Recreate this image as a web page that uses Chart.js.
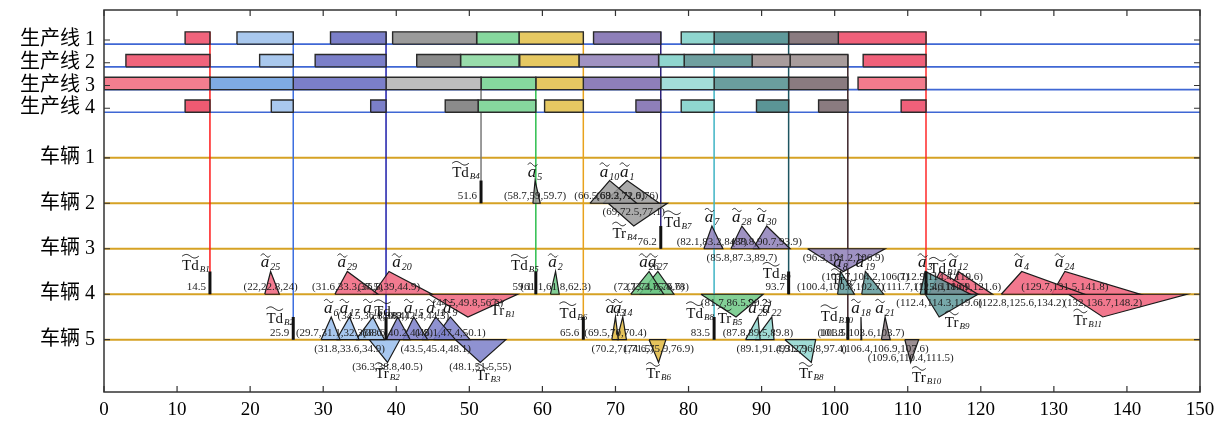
<!DOCTYPE html>
<html>
<head>
<meta charset="utf-8">
<script src="https://cdn.jsdelivr.net/npm/chart.js@4.4.1/dist/chart.umd.min.js"></script>
<style>
  html, body { margin: 0; padding: 0; background: #fff; }
  #wrap { width: 1225px; height: 426px; }
</style>
</head>
<body>
<div id="wrap"><canvas id="gantt"></canvas></div>
<script>
// ---- data ----
const timeTicks = [0, 10, 20, 30, 40, 50, 60, 70, 80, 90, 100, 110, 120, 130, 140, 150];
const lineLabels = ['生产线 1', '生产线 2', '生产线 3', '生产线 4'];
const vehicleLabels = ['车辆 1', '车辆 2', '车辆 3', '车辆 4', '车辆 5'];

// production line jobs: [start, end, batch]
const line1Jobs = [[11.1, 14.5, 'B1'], [18.2, 25.9, 'B2'], [31.0, 38.6, 'B3'], [39.5, 51.0, 'B4'], [51.0, 56.8, 'B5'], [56.8, 65.6, 'B6'], [67.0, 76.2, 'B7'], [79.0, 83.5, 'B8'], [83.5, 93.7, 'B9'], [93.7, 100.5, 'B10'], [100.5, 112.5, 'B11']];
const line2Jobs = [[3.0, 14.5, 'B1'], [21.3, 25.9, 'B2'], [28.9, 38.6, 'B3'], [42.8, 48.8, 'B4'], [48.8, 56.8, 'B5'], [56.9, 65.0, 'B6'], [65.0, 75.9, 'B7'], [75.9, 79.4, 'B8'], [79.4, 88.7, 'B9'], [88.7, 93.9, 'B10'], [93.9, 101.8, 'B10'], [103.9, 112.5, 'B11']];
const line3Jobs = [[0, 14.5, 'B1'], [14.5, 25.9, 'B2'], [25.9, 38.6, 'B3'], [38.6, 51.6, 'B4'], [51.6, 59.1, 'B5'], [59.1, 65.6, 'B6'], [65.6, 76.2, 'B7'], [76.2, 83.5, 'B8'], [83.5, 93.7, 'B9'], [93.7, 101.8, 'B10'], [103.2, 112.5, 'B11']];
const line4Jobs = [[11.1, 14.5, 'B1'], [22.9, 25.9, 'B2'], [36.5, 38.6, 'B3'], [46.7, 51.2, 'B4'], [51.2, 59.1, 'B5'], [60.3, 65.6, 'B6'], [72.8, 76.2, 'B7'], [79.0, 83.5, 'B8'], [89.3, 93.7, 'B9'], [97.8, 101.8, 'B10'], [109.1, 112.5, 'B11']];

// departures: [batch, time, vehicle]
const departures = [['B1', 14.5, 4], ['B2', 25.9, 5], ['B3', 38.6, 5], ['B4', 51.6, 2], ['B5', 59.1, 4], ['B6', 65.6, 5], ['B7', 76.2, 3], ['B8', 83.5, 5], ['B9', 93.7, 4], ['B10', 101.8, 5], ['B11', 112.5, 4]];

// fuzzy windows per vehicle: [kind, subscript, batch, a, b, c]
const vehicle2Fuzzy = [
  ['a', '5', 'B4', 58.7, 59, 59.7],
  ['a', '10', 'B4', 66.5, 69.2, 72.9],
  ['a', '1', 'B4', 68.3, 71.6, 76],
  ['Tr', 'B4', 'B4', 69, 72.5, 77.1]
];
const vehicle3Fuzzy = [
  ['a', '7', 'B7', 82.1, 83.2, 84.7],
  ['a', '28', 'B7', 85.8, 87.3, 89.7],
  ['a', '30', 'B7', 88.8, 90.7, 93.9],
  ['Tr', 'B7', 'B7', 96.3, 101.2, 106.9]
];
const vehicle4Fuzzy = [
  ['a', '25', 'B1', 22, 22.8, 24],
  ['a', '29', 'B1', 31.6, 33.3, 37.5],
  ['a', '20', 'B1', 36.8, 39, 44.9],
  ['Tr', 'B1', 'B1', 44.5, 49.8, 56.6],
  ['a', '2', 'B5', 61.1, 61.8, 62.3],
  ['a', '26', 'B5', 72.1, 74.6, 76.6],
  ['a', '27', 'B5', 73.3, 75.8, 78],
  ['Tr', 'B5', 'B5', 81.7, 86.5, 90.2],
  ['a', '8', 'B9', 100.4, 100.8, 102.7],
  ['a', '19', 'B9', 103.7, 104.2, 106.7],
  ['a', '3', 'B9', 111.7, 112.4, 118.6],
  ['Tr', 'B9', 'B9', 112.4, 114.3, 119.6],
  ['a', '', 'B11', 112.9, 114.4, 119.6],
  ['a', '12', 'B11', 115.6, 116.9, 121.6],
  ['a', '4', 'B11', 122.8, 125.6, 134.2],
  ['a', '24', 'B11', 129.7, 131.5, 141.8],
  ['Tr', 'B11', 'B11', 132, 136.7, 148.2]
];
const vehicle5Fuzzy = [
  ['a', '6', 'B2', 29.7, 31.1, 32.3],
  ['a', '17', 'B2', 31.8, 33.6, 34.9],
  ['a', '16', 'B2', 34.5, 36.8, 38.4],
  ['Tr', 'B2', 'B2', 36.3, 38.8, 40.5],
  ['a', '', 'B3', 38.6, 40.2, 41.9],
  ['a', '15', 'B3', 40.9, 42.4, 44.3],
  ['a', '11', 'B3', 43.5, 45.4, 48.1],
  ['a', '9', 'B3', 45.1, 47.4, 50.1],
  ['Tr', 'B3', 'B3', 48.1, 51.5, 55],
  ['a', '13', 'B6', 69.5, 70, 70.4],
  ['a', '14', 'B6', 70.2, 71, 71.5],
  ['Tr', 'B6', 'B6', 74.6, 75.9, 76.9],
  ['a', '23', 'B8', 87.8, 89.5, 89.8],
  ['a', '22', 'B8', 89.1, 91.4, 91.7],
  ['Tr', 'B8', 'B8', 93.2, 96.8, 97.4],
  ['a', '18', 'B10', 103.5, 103.6, 103.7],
  ['a', '21', 'B10', 106.4, 106.9, 107.6],
  ['Tr', 'B10', 'B10', 109.6, 110.4, 111.5]
];

// ---- styles / layout ----
const batchColors = { B1: '#f0647c', B2: '#a9c8ee', B3: '#7b7fc9', B4: '#9b9b9b', B5: '#86d89e', B6: '#e6c862', B7: '#8e7fb9', B8: '#8fd6cf', B9: '#5f9a9b', B10: '#8a7b80', B11: '#f0607a' };
const lineShades = [
  {},
  { B4: '#8a8a8a', B5: '#98dcab', B7: '#a092c2', B9: '#6fa0a0', B10: '#a89c9c' },
  { B1: '#f37e8f', B2: '#7fabe3', B4: '#bdbdbd', B8: '#a3ddd8', B9: '#6a9e9e', B11: '#f37b8c' },
  { B1: '#ef5a72', B4: '#8b8b8b', B9: '#5b9596' }
];
const dropColors = { B1: '#ff1a1a', B2: '#3d6fe0', B3: '#1e1eaa', B4: '#7a7a7a', B5: '#2fbf4f', B6: '#e8a21c', B7: '#2a1f78', B8: '#3fb4c4', B9: '#1d5560', B10: '#3c2429', B11: '#ff2a2a' };
const triColors = { B5: '#6cc884', B6: '#e0b840', B2: '#98bdec' };

const rowOffset = { line: -7, up: -17, up2: -24, down: 9, down2: 27, down3: 18 };
const labelRow = { a28: 'down', a17: 'down', a16: 'up2', a15: 'up2', a11: 'down', a14: 'down', a22: 'down', a21: 'down', a19: 'up', a4: 'down', TrB2: 'down2', TrB3: 'down2', TrB10: 'down3', 'x112.9': 'up' };
const nameShift = { TrB1: [35, -18], TrB5: [-6, -10], TrB9: [18, -6], TrB11: [-15, -8], TrB10: [16, 4], TrB4: [-9, -4], TrB3: [8, 2], TrB7: [0, -3], a20: [13, 0] };
const tdNameShift = { B1: [-14, -30], B2: [-13, -23], B3: [2, -30], B4: [-15, -32], B5: [-11, -30], B6: [-10, -28], B7: [17, -28], B8: [-14, -28], B9: [-12, -22], B10: [-11, -25], B11: [19, -27] };
const tdValueHidden = ['B11'];

const BAR_H = 0.27, TRI_H = 0.5;
const rowY = j => (j - 4) * 0.5;          // production line j (1..4)
const lineJobs = [line1Jobs, line2Jobs, line3Jobs, line4Jobs];
const vehicleFuzzy = { 2: vehicle2Fuzzy, 3: vehicle3Fuzzy, 4: vehicle4Fuzzy, 5: vehicle5Fuzzy };

const rgba = (hex, a) => {
  const n = parseInt(hex.slice(1), 16);
  return `rgba(${n >> 16},${(n >> 8) & 255},${n & 255},${a})`;
};

// ---- datasets ----
const datasets = [];
function addLine(points, color, width, order, fill) {
  datasets.push({
    data: points, showLine: true, tension: 0, pointRadius: 0,
    borderColor: color, borderWidth: width, order,
    fill: fill ? 'shape' : false, backgroundColor: fill || 'transparent'
  });
}

// horizontal guide lines
lineLabels.forEach((_, i) => addLine([{ x: 0, y: rowY(i + 1) }, { x: 150, y: rowY(i + 1) }], '#3f67d4', 1.6, 5));
vehicleLabels.forEach((_, i) => addLine([{ x: 0, y: i + 1 }, { x: 150, y: i + 1 }], '#d6a224', 2, 5));

// drop lines from production to vehicle
departures.forEach(([batch, t, veh]) => {
  let j = lineJobs.findIndex(jobs => jobs.some(([s, e, b]) => b === batch && Math.abs(e - t) < 0.35));
  if (j < 0) j = 0;
  addLine([{ x: t, y: rowY(j + 1) - BAR_H }, { x: t, y: veh }], dropColors[batch], 1.5, 4);
});

// gantt bars
lineJobs.forEach((jobs, i) => {
  const v = rowY(i + 1);
  jobs.forEach(([s, e, b]) => {
    const col = lineShades[i][b] || batchColors[b];
    addLine([{ x: s, y: v }, { x: s, y: v - BAR_H }, { x: e, y: v - BAR_H }, { x: e, y: v }, { x: s, y: v }], '#2a2a2a', 1.4, 3, col);
  });
});

// fuzzy triangles
Object.entries(vehicleFuzzy).forEach(([veh, list]) => {
  const v = +veh;
  list.forEach(([kind, sub, batch, a, b, c]) => {
    const dir = kind === 'Tr' ? 1 : -1;
    const col = rgba(triColors[batch] || batchColors[batch], 0.85);
    addLine([{ x: a, y: v }, { x: b, y: v + dir * TRI_H }, { x: c, y: v }, { x: a, y: v }], '#1a1a1a', 1.2, 2, col);
  });
});

// departure bars
departures.forEach(([batch, t, veh]) => addLine([{ x: t, y: veh }, { x: t, y: veh - TRI_H }], '#111', 3, 1));

// ---- text helpers ----
function drawTilde(ctx, x0, w, ym, amp) {
  ctx.beginPath();
  for (let i = 0; i <= 24; i++) {
    const t = i / 24;
    const px = x0 + t * w, py = ym - amp * Math.sin(t * 2 * Math.PI);
    if (i) ctx.lineTo(px, py); else ctx.moveTo(px, py);
  }
  ctx.stroke();
}

function drawName(ctx, kind, sub, cx, cy) {
  ctx.fillStyle = '#111'; ctx.strokeStyle = '#111'; ctx.lineWidth = 1;
  ctx.textBaseline = 'alphabetic'; ctx.textAlign = 'left';
  if (kind === 'a') {
    ctx.font = 'italic 17px "Liberation Serif"';
    const wa = ctx.measureText('a').width;
    ctx.font = 'italic 10px "Liberation Serif"';
    const ws = ctx.measureText(sub).width;
    const x0 = cx - (wa + ws + 1) / 2;
    ctx.font = 'italic 17px "Liberation Serif"';
    ctx.fillText('a', x0, cy + 5);
    drawTilde(ctx, x0, wa + 1, cy - 7, 1.6);
    ctx.font = 'italic 10px "Liberation Serif"';
    ctx.fillText(sub, x0 + wa + 1, cy + 8);
  } else {
    ctx.font = '15px "Liberation Serif"';
    const wb = ctx.measureText(kind).width;
    ctx.font = 'italic 9px "Liberation Serif"';
    const ws = ctx.measureText(sub).width;
    const x0 = cx - (wb + ws + 1) / 2;
    ctx.font = '15px "Liberation Serif"';
    ctx.fillText(kind, x0, cy + 6);
    drawTilde(ctx, x0, wb, cy - 8, 1.8);
    ctx.font = 'italic 9px "Liberation Serif"';
    ctx.fillText(sub, x0 + wb + 1, cy + 8);
  }
}

const overlay = {
  id: 'overlay',
  afterDatasetsDraw(chart) {
    const { ctx, chartArea: ca, scales: { x, y } } = chart;
    ctx.save();
    // box with inward ticks
    ctx.strokeStyle = '#333'; ctx.lineWidth = 1.5;
    ctx.strokeRect(ca.left, ca.top, ca.right - ca.left, ca.bottom - ca.top);
    ctx.lineWidth = 1.2;
    ctx.beginPath();
    x.ticks.forEach(t => {
      const px = x.getPixelForValue(t.value);
      ctx.moveTo(px, ca.bottom); ctx.lineTo(px, ca.bottom - 6);
      ctx.moveTo(px, ca.top); ctx.lineTo(px, ca.top + 6);
    });
    y.ticks.forEach(t => {
      const py = y.getPixelForValue(t.value);
      ctx.moveTo(ca.left, py); ctx.lineTo(ca.left + 6, py);
      ctx.moveTo(ca.right, py); ctx.lineTo(ca.right - 6, py);
    });
    ctx.stroke();

    // fuzzy labels and names
    Object.entries(vehicleFuzzy).forEach(([veh, list]) => {
      const ly = y.getPixelForValue(+veh);
      list.forEach(([kind, sub, batch, a, b, c]) => {
        const id = sub ? kind + sub : 'x' + a;
        const row = labelRow[id] || (kind === 'Tr' ? 'down' : 'line');
        ctx.font = '11px "Liberation Serif"';
        ctx.textAlign = 'center'; ctx.textBaseline = 'middle'; ctx.fillStyle = '#222';
        ctx.fillText(`(${a},${b},${c})`, x.getPixelForValue(b), ly + rowOffset[row]);
        if (sub) {
          const peakY = y.getPixelForValue(+veh + (kind === 'Tr' ? TRI_H : -TRI_H));
          const [dx, dy] = nameShift[id] || [0, 0];
          drawName(ctx, kind, sub, x.getPixelForValue(b) + dx, peakY + (kind === 'Tr' ? 10 : -9) + dy);
        }
      });
    });

    // departure labels
    departures.forEach(([batch, t, veh]) => {
      const px = x.getPixelForValue(t), ly = y.getPixelForValue(veh);
      if (!tdValueHidden.includes(batch)) {
        ctx.font = '11px "Liberation Serif"';
        ctx.textAlign = 'right'; ctx.textBaseline = 'middle'; ctx.fillStyle = '#222';
        ctx.fillText(String(t), px - 4, ly - 7);
      }
      const [dx, dy] = tdNameShift[batch];
      drawName(ctx, 'Td', batch, px + dx, ly + dy);
    });
    ctx.restore();
  }
};

const yTickValues = lineLabels.map((_, i) => rowY(i + 1) - 0.09).concat(vehicleLabels.map((_, i) => i + 1));
const yTickLabels = lineLabels.concat(vehicleLabels);

new Chart(document.getElementById('gantt'), {
  type: 'scatter',
  data: { datasets },
  options: {
    responsive: true,
    maintainAspectRatio: false,
    animation: false,
    events: [],
    layout: { padding: { left: 0, right: 25, top: 10, bottom: 0 } },
    plugins: { legend: { display: false }, tooltip: { enabled: false } },
    scales: {
      x: {
        type: 'linear', min: 0, max: 150,
        afterBuildTicks: s => { s.ticks = timeTicks.map(v => ({ value: v })); },
        afterFit: s => { s.height = 34; s.paddingLeft = 0; s.paddingRight = 0; },
        grid: { display: false, drawTicks: false },
        border: { display: false },
        ticks: { padding: 7, color: '#000', font: { family: '"Liberation Serif"', size: 19 }, maxRotation: 0 }
      },
      y: {
        type: 'linear', min: -2.25, max: 6.15, reverse: true,
        afterBuildTicks: s => { s.ticks = yTickValues.map(v => ({ value: v })); },
        afterFit: s => { s.width = 104; s.paddingTop = 0; s.paddingBottom = 0; },
        grid: { display: false, drawTicks: false },
        border: { display: false },
        ticks: {
          padding: 9, color: '#000',
          font: { family: '"Liberation Serif", "Noto Sans CJK SC"', size: 20 },
          callback: (v, i) => yTickLabels[i]
        }
      }
    }
  },
  plugins: [overlay]
});
</script>
</body>
</html>
